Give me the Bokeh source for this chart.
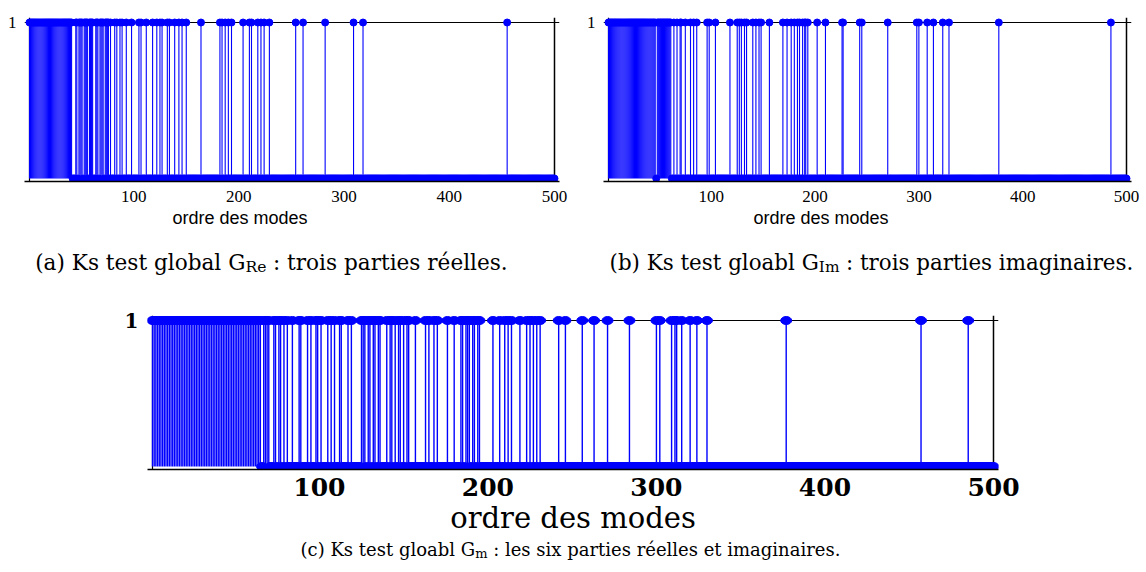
from bokeh.plotting import figure
from bokeh.layouts import column, row
from bokeh.models import Range1d, FixedTicker, Span, ColumnDataSource, Title
from bokeh.core.properties import value
from bokeh.embed import file_html
from bokeh.resources import INLINE

# ---------------- data ----------------
modes = list(range(1, 501))

ones_a = [1, 2, 3, 4, 5, 6, 7, 8, 9, 10, 11, 12, 13, 14, 15, 16, 17, 18, 19, 20,
          21, 22, 23, 24, 25, 26, 27, 28, 29, 30, 31, 32, 33, 34, 35, 36, 37, 38, 39, 40, 41,
          45, 46, 48, 49, 50, 51, 53, 54, 55, 56, 58, 59, 60, 61, 64, 65, 66, 68, 69, 70,
          71, 73, 74, 75, 76, 78, 82, 84, 87, 89, 93, 98, 105, 107, 112, 118, 122, 125,
          127, 132, 134, 139, 143, 146, 150, 164, 182, 184, 187, 190, 193, 204, 210, 212,
          218, 221, 224, 229, 254, 261, 282, 309, 318, 455]

ones_b = [1, 2, 3, 4, 5, 6, 7, 8, 9, 10, 11, 12, 13, 14, 15, 16, 17, 18, 19, 20,
          21, 22, 23, 24, 25, 26, 27, 28, 29, 30, 31, 32, 33, 34, 35, 36, 37, 38, 39, 40,
          41, 42, 43, 44, 45, 46, 48, 49, 50, 51, 52, 53, 54, 55, 56, 57, 58, 59, 60, 61,
          64, 67, 70, 71, 75, 80, 83, 86, 96, 98, 104, 118, 125, 127, 129, 132, 134, 140,
          143, 146, 148, 156, 169, 173, 177, 180, 183, 185, 188, 190, 191, 193, 202, 210,
          226, 227, 243, 245, 270, 298, 300, 308, 314, 323, 329, 377, 485]

ones_c = [1, 2, 3, 4, 5, 6, 7, 8, 9, 10, 11, 12, 13, 14, 15, 16, 17, 18, 19, 20,
          21, 22, 23, 24, 25, 26, 27, 28, 29, 30, 31, 32, 33, 34, 35, 36, 37, 38, 39, 40,
          41, 42, 43, 44, 45, 46, 47, 48, 49, 50, 51, 52, 53, 54, 55, 56, 57, 58, 59, 60,
          61, 62, 63, 64, 65, 67, 68, 69, 70, 73, 74, 76, 77, 79, 81, 84, 88, 89, 93, 95,
          98, 99, 101, 105, 107, 109, 112, 113, 117, 119, 125, 126, 127, 129, 130, 132,
          133, 135, 136, 140, 142, 143, 145, 147, 148, 150, 152, 153, 157, 163, 165, 168,
          170, 176, 180, 184, 185, 187, 188, 189, 191, 192, 194, 195, 203, 207, 210, 212,
          214, 219, 223, 225, 227, 229, 231, 242, 246, 256, 263, 271, 284, 300, 302, 309,
          311, 312, 315, 320, 324, 330, 377, 457, 485]

x_ticks = [100, 200, 300, 400, 500]
y_ticks = [1]
x_label = "ordre des modes"
cap_a = ("(a) Ks test global G", "Re", " : trois parties réelles.")
cap_b = ("(b) Ks test gloabl G", "Im", " : trois parties imaginaires.")
cap_c = ("(c) Ks test gloabl G", "m", " : les six parties réelles et imaginaires.")

BLUE = "#0000ff"
SERIF_CAP = "DejaVu Serif"


def make_panel(ones, sx, sy, mb, tick_font, tick_size, tick_style, tick_standoff,
               lab_font, lab_size, lab_align, lab_offset, lab_standoff,
               ylab_font, ylab_size, ylab_style, ylab_standoff,
               stem_w, ellipse_marker):
    ones_set = set(ones)
    vals = [1 if m in ones_set else 0 for m in modes]
    pad_l, pad_r, pad_t, pad_b = 5.0, 5.0, 5.0, 3.0
    x0 = modes[0] - pad_l / sx
    x1 = modes[-1] + pad_r / sx
    y0 = -pad_b / sy
    y1 = 1 + pad_t / sy
    fw = int(round((x1 - x0) * sx))
    fh = int(round((y1 - y0) * sy))
    p = figure(frame_width=fw, frame_height=fh,
               x_range=Range1d(x0, x1), y_range=Range1d(y0, y1),
               toolbar_location=None, output_backend="svg",
               min_border_left=mb[0], min_border_right=mb[1],
               min_border_top=mb[2], min_border_bottom=mb[3],
               background_fill_color="white", border_fill_color="white")
    p.xgrid.visible = False
    p.ygrid.visible = False
    p.outline_line_color = None

    p.add_layout(Span(location=1, dimension="width", line_color="black",
                      line_width=1.2, level="underlay"))
    p.add_layout(Span(location=modes[-1], dimension="height", line_color="black",
                      line_width=1.5, level="underlay"))
    p.add_layout(Span(location=modes[0], dimension="height", line_color="black",
                      line_width=1.2, level="underlay"))

    src = ColumnDataSource(dict(x=modes, y=vals, base=[0] * len(modes)))
    p.segment(x0="x", y0="base", x1="x", y1="y", source=src,
              line_color=BLUE, line_width=stem_w)
    if ellipse_marker:
        p.ellipse(x="x", y="y", width=11, height=8, width_units="screen",
                  height_units="screen", fill_color=BLUE, line_color=BLUE, source=src)
    else:
        p.scatter(x="x", y="y", size=7, marker="circle", fill_color=BLUE,
                  line_color=BLUE, source=src)

    xa = p.xaxis[0]
    xa.ticker = FixedTicker(ticks=x_ticks)
    xa.major_tick_out = 0
    xa.major_tick_in = 0
    xa.axis_line_color = "black"
    xa.axis_line_width = 1.5
    xa.major_label_text_font = tick_font
    xa.major_label_text_font_size = tick_size
    xa.major_label_text_font_style = tick_style
    xa.major_label_text_color = "black"
    xa.major_label_standoff = tick_standoff

    t = Title(text=x_label, align=lab_align, offset=lab_offset,
              text_font=lab_font, text_font_size=lab_size,
              text_font_style="normal", text_color="black", standoff=lab_standoff)
    p.add_layout(t, "below")

    ya = p.yaxis[0]
    ya.ticker = FixedTicker(ticks=y_ticks)
    ya.axis_line_color = None
    ya.major_tick_out = 0
    ya.major_tick_in = 0
    ya.major_label_text_font = ylab_font
    ya.major_label_text_font_size = ylab_size
    ya.major_label_text_font_style = ylab_style
    ya.major_label_text_color = "black"
    ya.major_label_standoff = ylab_standoff
    return p


W = {' ': .318, '(': .390, ')': .390, '.': .318, ':': .337, 'a': .596, 'b': .640,
     'c': .560, 'd': .640, 'e': .592, 'é': .592, 'g': .640, 'i': .320, 'l': .320,
     'm': .948, 'n': .644, 'o': .602, 'p': .640, 'r': .478, 's': .513, 't': .402,
     'x': .564, 'y': .565, 'G': .775, 'I': .372, 'K': .773, 'R': .734}


def tw(s, size):
    return sum(W.get(c, 0.58) for c in s) * size


def add_caption(p, cx, base_y, parts, size):
    pre, sub, post = parts
    ssize = size * 0.72
    total = tw(pre, size) + tw(sub, ssize) + tw(post, size)
    x = cx - total / 2
    items = [(pre, size, base_y), (sub, ssize, base_y + size * 0.22), (post, size, base_y)]
    for txt, sz, yy in items:
        lead = len(txt) - len(txt.lstrip(" "))
        x += lead * W[" "] * sz
        body = txt.lstrip(" ")
        p.text(x=[x], y=[yy], text=[body], text_font=value(SERIF_CAP),
               text_font_size=value(f"{sz:.1f}px"), text_align="left",
               text_baseline="alphabetic", text_color="black")
        x += tw(body, sz)


def caption_fig(h):
    p = figure(width=1146, height=h, x_range=Range1d(0, 1146), y_range=Range1d(h, 0),
               toolbar_location=None, output_backend="svg",
               x_axis_location=None, y_axis_location=None, min_border=0,
               background_fill_color="white", border_fill_color="white")
    p.grid.visible = False
    p.outline_line_color = None
    return p


pa = make_panel(ones_a, 1.052, 156.0, (24, 24, 17, 59),
                "Liberation Serif", "17px", "normal", 9,
                "Liberation Sans", "18px", "left", 148, 2,
                "Liberation Serif", "17px", "normal", 8, 1.1, False)
pb = make_panel(ones_b, 1.038, 156.0, (19, 8, 17, 59),
                "Liberation Serif", "17px", "normal", 9,
                "Liberation Sans", "18px", "left", 150, 2,
                "Liberation Serif", "17px", "normal", 8, 1.1, False)
pc = make_panel(ones_c, 1.685, 146.0, (147, 140, 30, 61),
                "DejaVu Serif", "25px", "bold", 8,
                "DejaVu Serif", "29px", "center", 0, 0,
                "DejaVu Serif", "20px", "bold", 9, 1.4, True)

cap1 = caption_fig(45)
add_caption(cap1, 271, 22, cap_a, 21.6)
add_caption(cap1, 871, 22, cap_b, 21.4)

cap2 = caption_fig(34)
add_caption(cap2, 570, 15, cap_c, 18)

layout = column(row(pa, pb), row(cap1), row(pc), row(cap2))

with open("out.html", "w") as f:
    f.write(file_html(layout, INLINE))
